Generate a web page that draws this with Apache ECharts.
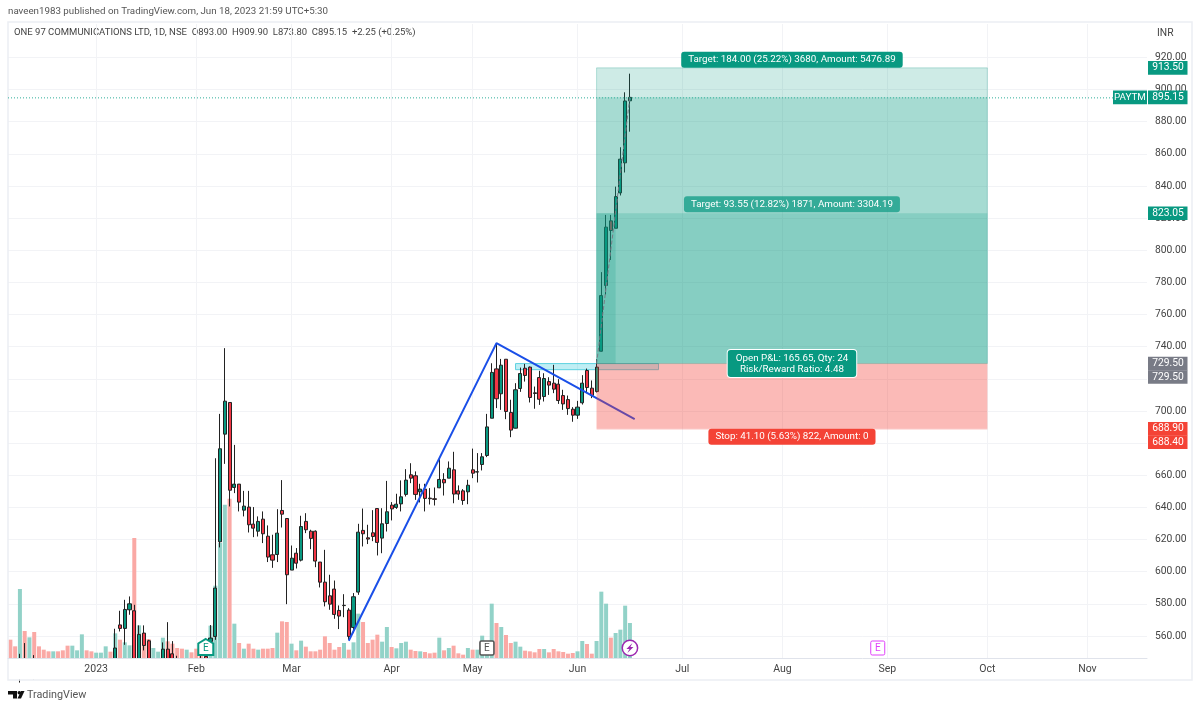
<!DOCTYPE html>
<html>
<head>
<meta charset="utf-8">
<script src="https://cdn.jsdelivr.net/npm/echarts@6/dist/echarts.min.js"></script>
<style>
html, body { margin: 0; padding: 0; background: #fff; }
#chart { width: 1200px; height: 709px; }
</style>
</head>
<body>
<div id="chart"></div>
<script>
var FONT = 'Roboto, sans-serif';
var UP = '#089981', DOWN = '#f23645';

// daily bars, first visible trading day of the screen to Jun 16 2023
var opens = [541,537,534,544,535,541,538,536,534,532,535,533,531,528,531,533,538,535,533,535,537,541,
  544,566.9,564.7,576.3,575.7,542,561.8,557,538,540,543,551.8,548.9,544,541,537,540,539,546,547.3,556.6,
  559.7,618.6,685.6,705.3,652.4,654.5,638.3,640.2,629.6,625.2,632.7,622.1,610.5,610.7,638.1,633.1,601,611.5,
  607.2,631.3,625.2,625.2,606,593.5,585,589.2,575.9,578.9,576.1,565.3,587.3,625.7,621.1,624.2,639.3,620.9,630,
  641.4,640,642.2,648.1,660.3,659.7,649.7,651.4,645.8,645.4,652.2,657.4,658.2,663.4,650.3,650.3,649.7,663.4,662,
  666.7,672.3,695.5,726.2,710.7,732.2,699.1,689.3,714,726.6,727.3,711.3,720.8,709,718.3,717.3,716.7,709.6,707.1,
  701.1,697.4,705.1,725.2,714.2,712.1,737.2,778.1,818.3,813.7,835.7,854.4,893];
var closes = [536,533,541,538,541,537,535,533,532,534,532,530,528,531,533,538,535,533,535,537,540,538,
  552.5,564.7,576.5,580,545,561,554.1,544,541,542,551.8,544,541,540,538,540,537,536,543,544,558.7,
  589.8,676.5,706.1,650.7,654.5,643.3,640.8,629.2,627.1,631.3,623.6,609.1,607.2,624,635.8,598.1,608.4,605.3,
  628.1,626.1,620.7,606.6,593.5,581.3,579.8,573.4,572.4,579.1,559.7,584.4,624.6,623.6,620.3,621.9,618.2,629.8,637.3,
  639.1,642,646.6,657,658.2,648.1,651.4,645.6,645.4,645,657.4,655.3,664.4,648.3,648.3,644.3,653.8,661.3,662.2,
  671.5,690.1,724,707.6,728.5,699.7,688.1,713.2,723.3,722.1,708.4,710.9,707.3,720.2,716.1,713.6,706.5,704.4,701.5,
  697.4,702.4,717.3,714.6,709.6,727.3,771.8,814.4,812.3,833.4,856.7,892.9,895.15];
var lows = [533,530,531,535,533,533,532,531,530,530,530,528,526,526,529,531,533,531,531,533,535,536,
  540,562.8,554.5,573.2,535,538,551,540,536,537,540,541,538,537,535,535,534,533,541,541,554.5,
  557.6,615.1,667.1,640.6,648.9,637.5,634.4,624.4,621.5,621.9,617.8,606,602.4,606,627.5,579.8,601,602,
  606.4,624,614,602.8,590.2,578.4,576.3,570.7,564.3,571.7,557.6,561.8,585.6,615.7,617.2,619,610.1,611.5,625,
  631.9,639.1,637.5,646.8,655.1,644.7,643.1,637.5,641.8,641.2,652,647.4,658.2,642.6,644.7,641.6,642,658.2,655.5,
  663,671.3,695.5,701.8,700.7,694.9,683.7,689.1,711.9,718.3,705.3,701.4,703.8,705.9,710,711.1,704.4,700.7,697.6,
  693.3,695.1,704,711.1,708,711.5,737,772.3,794,813.7,834.1,848.4,873.8];
var highs = [543,540,548.9,555.6,544,548.1,541,539,537,536,537,535,534,533,535,541,540,538,537,539,543,544,
  564.5,575.7,582.5,584.6,579.4,566.6,566.6,557.6,544,544.5,556,568.6,556.8,547.7,545,543,543,542,549,550.4,566.8,
  670.6,698.2,739.1,705.3,678.9,654.5,650.3,650.3,640.2,634.4,637.5,628.8,623,638.9,657,633.1,616.3,614.7,
  634.8,636.4,626.1,625.7,606,613.6,598.1,594.5,579,586,577.3,586.7,629.8,639.3,629.2,638.3,639.5,639.5,656.5,
  643.3,648.5,656.8,663.8,667.5,662.4,654.7,654.7,652,652.4,670,661.3,668.6,674.6,653.7,651.4,657.2,676.6,673.8,
  673.8,698.2,729.7,741.8,732.4,732.2,707,717.3,727,729.3,727.7,715.2,725,723.5,721,728.7,719.8,713.2,709.6,
  702.4,706.3,722.3,726.4,719,732.2,786.4,822,822,839.6,864.1,898.3,909.9];
var volumes = [55,35,207,81,62,78,35,25,20,20,20,23,37,37,23,71,23,20,16,16,35,19,
  74,55,47,38,360,98,75,57,30,19,61,50,43,30,28,25,17,28,25,35,97,
  217,345,460,478,103,45,28,43,28,25,28,28,30,76,110,108,43,23,
  52,34,20,20,25,65,45,25,33,45,25,47,133,108,45,55,70,49,93,
  33,29,45,49,25,21,20,18,14,16,61,23,30,37,14,10,30,25,25,
  67,40,163,105,93,69,45,49,34,22,20,17,27,27,17,27,20,18,13,
  15,20,51,42,13,51,199,163,61,75,85,157,105];

var barCount = 239;
var monthIndex = [18, 39, 59, 80, 97, 119, 141, 162, 184, 205, 226];
var monthLabels = ['2023', 'Feb', 'Mar', 'Apr', 'May', 'Jun', 'Jul', 'Aug', 'Sep', 'Oct', 'Nov'];
var priceTicks = [560,580,600,620,640,660,680,700,720,740,760,780,800,820,840,860,880,900,920];

// drawings on the chart
var trendX = [71, 102, 131];
var trendY = [557, 742.2, 694.9];
var pathX = [123, 130];
var pathY = [729.5, 895.15];
var boxX = [106, 136];
var boxY = [729.5, 725.7];

// long position tool, layered zones
var zoneKind = ['target', 'target', 'target', 'target', 'stop', 'stop'];
var zoneStart = [123, 123, 123, 123, 123, 123];
var zoneEnd = [205, 205, 205, 127, 205, 205];
var zoneTop = [913.5, 895.15, 823.05, 823.05, 729.5, 729.5];
var zoneBottom = [729.5, 729.5, 729.5, 729.5, 688.9, 688.4];

var calloutText = ['Target: 184.00 (25.22%) 3680, Amount: 5476.89',
  'Target: 93.55 (12.82%) 1871, Amount: 3304.19',
  'Open P&L: 165.65, Qty: 24\nRisk/Reward Ratio: 4.48',
  'Stop: 41.10 (5.63%) 822, Amount: 0'];
var calloutValue = [913.5, 823.05, 729.5, 688.4];
var calloutCenter = 164; // bar in the middle of the position box

var tagValue = [913.5, 895.15, 823.05, 729.5, 729.5, 688.9, 688.4];
var tagKind = ['up', 'up', 'up', 'grey', 'grey', 'down', 'down'];

var eventIndex = [41, 100, 130, 182];
var eventKind = ['green', 'grey', 'bolt', 'pink'];

var categories = [];
for (var i = 0; i < barCount; i++) {
  var m = monthIndex.indexOf(i);
  categories.push(m >= 0 ? monthLabels[m] : '');
}
var candles = opens.map(function (o, i) {
  return [o, closes[i], lows[i], highs[i]];
});
function pairs(xs, ys) {
  return xs.map(function (x, i) { return [x, ys[i]]; });
}

function renderZone(params, api) {
  var i = params.dataIndex;
  var a = api.coord([zoneStart[i], zoneTop[i]]);
  var b = api.coord([zoneEnd[i], zoneBottom[i]]);
  var target = zoneKind[i] == 'target';
  return {
    type: 'rect',
    shape: { x: a[0], y: a[1], width: b[0] - a[0], height: b[1] - a[1] },
    style: {
      fill: target ? 'rgba(8,153,129,0.2)' : 'rgba(244,67,54,0.2)',
      stroke: i == 0 ? 'rgba(8,153,129,0.25)' : null,
      lineWidth: 1
    }
  };
}

function renderBox(params, api) {
  var a = api.coord([boxX[0], boxY[0]]);
  var b = api.coord([boxX[1], boxY[1]]);
  return {
    type: 'rect',
    shape: { x: a[0], y: a[1], width: b[0] - a[0], height: b[1] - a[1] },
    style: { fill: 'rgba(0,188,212,0.25)', stroke: '#5ed2e0', lineWidth: 1 }
  };
}

function renderCallout(params, api) {
  var i = params.dataIndex;
  var p = api.coord([calloutCenter, calloutValue[i]]);
  var fills = ['#089981', 'rgba(8,153,129,0.72)', '#089981', '#f44336'];
  var shift = [-8, -9, 0, 7];
  return {
    type: 'text',
    style: {
      text: calloutText[i], x: p[0], y: p[1] + shift[i],
      align: 'center', verticalAlign: 'middle',
      fill: '#fff', font: '9.8px ' + FONT, lineHeight: 11,
      backgroundColor: fills[i], padding: i == 2 ? [2, 8, 3, 8] : [2, 7, 3, 7],
      borderRadius: 3,
      borderColor: i == 2 ? '#fff' : 'transparent', borderWidth: i == 2 ? 1 : 0
    }
  };
}

function renderTag(params, api) {
  var i = params.dataIndex;
  // stacked tags push each other down like the price scale does
  var y = api.coord([0, tagValue[0]])[1];
  for (var k = 1; k <= i; k++) {
    var next = api.coord([0, tagValue[k]])[1];
    y = Math.max(next, y + 13.4);
  }
  var fills = { up: '#089981', grey: '#787b86', down: '#f44336' };
  var children = [{
    type: 'rect',
    shape: { x: 1148, y: y - 6.8, width: 39.5, height: 13.6 },
    style: { fill: fills[tagKind[i]] }
  }, {
    type: 'text',
    style: { text: tagValue[i].toFixed(2), x: 1168, y: y, align: 'center', verticalAlign: 'middle', fill: '#fff', font: '10.3px ' + FONT }
  }];
  if (tagValue[i] == closes[closes.length - 1]) {
    children.push({
      type: 'line',
      shape: { x1: params.coordSys.x, y1: y + 0.5, x2: 1113, y2: y + 0.5 },
      style: { stroke: '#2fae9a', lineWidth: 1, lineDash: [1, 2] }
    }, {
      type: 'rect',
      shape: { x: 1113, y: y - 6.8, width: 34, height: 13.6 },
      style: { fill: '#089981' }
    }, {
      type: 'text',
      style: { text: 'PAYTM', x: 1130, y: y, align: 'center', verticalAlign: 'middle', fill: '#fff', font: '9.8px ' + FONT }
    });
  }
  return { type: 'group', children: children };
}

function renderEvent(params, api) {
  var i = params.dataIndex;
  var p = api.coord([eventIndex[i], 546.3]);
  var cx = p[0], cy = p[1] - 10;
  var kind = eventKind[i];
  if (kind == 'bolt') {
    return {
      type: 'group',
      children: [{
        type: 'circle', shape: { cx: cx, cy: cy, r: 7.7 },
        style: { fill: '#fff', stroke: '#9c27b0', lineWidth: 1.5 }
      }, {
        type: 'polygon',
        shape: { points: [[cx + 2.5, cy - 5], [cx - 3.5, cy + 1], [cx - 0.5, cy + 1], [cx - 2.5, cy + 5], [cx + 3.5, cy - 1], [cx + 0.5, cy - 1]] },
        style: { fill: '#9c27b0' }
      }]
    };
  }
  var color = { green: '#089981', grey: '#555', pink: '#e040fb' }[kind];
  var border;
  if (kind == 'green') {
    border = {
      type: 'polygon',
      shape: { points: [[cx, cy - 9], [cx + 7.5, cy - 4.5], [cx + 7.5, cy + 7], [cx - 7.5, cy + 7], [cx - 7.5, cy - 4.5]] },
      style: { fill: '#fff', stroke: color, lineWidth: 2 }
    };
  } else {
    border = {
      type: 'rect',
      shape: { x: cx - 7, y: cy - 7, width: 14, height: 14, r: 1.5 },
      style: { fill: '#fff', stroke: color, lineWidth: kind == 'grey' ? 1.6 : 1 }
    };
  }
  return {
    type: 'group',
    children: [border, {
      type: 'text',
      style: { text: 'E', x: cx, y: cy, align: 'center', verticalAlign: 'middle', fill: color, font: '10px ' + FONT }
    }]
  };
}

function pageText(x, y, text, size, color) {
  return { type: 'text', x: x, y: y, style: { text: text, fill: color, font: size + 'px ' + FONT, verticalAlign: 'middle' } };
}

function monthOnly(idx, value) {
  return value !== '';
}

var option = {
  backgroundColor: '#fff',
  animation: false,
  grid: { left: 8, right: 53, top: 24, bottom: 51 },
  xAxis: [{
    // vertical grid lines only, stays under the marks
    type: 'category',
    boundaryGap: true,
    data: categories,
    axisLine: { show: false },
    axisTick: { show: false },
    axisLabel: { show: false },
    splitLine: {
      show: true,
      alignWithLabel: true,
      interval: monthOnly,
      lineStyle: { color: '#f2f3f6', width: 1 }
    }
  }, {
    // labels and base line, above the mask under the plot
    type: 'category',
    position: 'bottom',
    boundaryGap: true,
    z: 10,
    data: categories,
    axisLine: { onZero: false, lineStyle: { color: '#e0e3eb', width: 1 } },
    axisTick: { show: false },
    axisLabel: {
      interval: monthOnly,
      color: '#444', fontFamily: FONT, fontSize: 10.5, margin: 6, hideOverlap: false
    },
    splitLine: { show: false }
  }],
  yAxis: [{
    type: 'value',
    position: 'right',
    min: 546.3,
    max: 940.8,
    axisLine: { show: false },
    axisTick: { show: false, customValues: priceTicks },
    axisLabel: {
      customValues: priceTicks,
      formatter: function (v) { return v.toFixed(2); },
      color: '#444', fontFamily: FONT, fontSize: 10.3, margin: 8
    },
    splitLine: { show: true, lineStyle: { color: '#f2f3f6', width: 1 } }
  }, {
    type: 'value', show: false, min: 0, max: 1902
  }],
  series: [{
    name: 'Volume',
    type: 'bar',
    yAxisIndex: 1,
    barWidth: 4,
    z: 1,
    itemStyle: {
      color: function (p) { return closes[p.dataIndex] >= opens[p.dataIndex] ? '#92d2c8' : '#faa9a5'; }
    },
    data: volumes
  }, {
    name: 'Cyan box',
    type: 'custom',
    z: 1.5,
    renderItem: renderBox,
    data: [boxX[0]]
  }, {
    name: 'PAYTM',
    type: 'candlestick',
    z: 2,
    barWidth: 3.6,
    itemStyle: {
      color: UP, color0: DOWN, borderColor: '#222', borderColor0: '#222', borderWidth: 1
    },
    data: candles
  }, {
    name: 'Trend',
    type: 'line',
    z: 3,
    showSymbol: false,
    symbol: 'none',
    lineStyle: { color: '#1a4fe8', width: 2 },
    data: pairs(trendX, trendY)
  }, {
    name: 'Position zones',
    type: 'custom',
    z: 4,
    renderItem: renderZone,
    data: zoneStart
  }, {
    name: 'Position path',
    type: 'line',
    z: 5,
    showSymbol: false,
    symbol: 'none',
    lineStyle: { color: '#787b86', width: 1, type: 'dashed' },
    data: pairs(pathX, pathY)
  }, {
    name: 'Callouts',
    type: 'custom',
    z: 6,
    renderItem: renderCallout,
    data: calloutValue
  }, {
    name: 'Events',
    type: 'custom',
    z: 6,
    renderItem: renderEvent,
    data: eventIndex
  }, {
    name: 'Price tags',
    type: 'custom',
    z: 7,
    renderItem: renderTag,
    data: tagValue
  }],
  graphic: [
    // candlesticks are not clipped by the grid, hide what runs below the plot
    { type: 'rect', z: 5, shape: { x: 9, y: 658.5, width: 1137, height: 21 }, style: { fill: '#fff' }, silent: true },
    { type: 'rect', z: 6, shape: { x: 8, y: 22, width: 1184, height: 658 }, style: { fill: 'none', stroke: '#eceef3', lineWidth: 1.5 }, silent: true },
    pageText(8, 12, 'naveen1983 published on TradingView.com, Jun 18, 2023 21:59 UTC+5:30', 9.75, '#555'),
    pageText(14, 33, 'ONE 97 COMMUNICATIONS LTD, 1D, NSE  O893.00  H909.90  L873.80  C895.15  +2.25 (+0.25%)', 9.5, '#444'),
    pageText(1157, 33, 'INR', 10.3, '#444'),
    pageText(27, 695, 'TradingView', 10.8, '#555'),
    { type: 'polygon', shape: { points: [[8, 691], [17, 691], [17, 698.5], [13, 698.5], [13, 694.5], [8, 694.5]] }, style: { fill: '#111' } },
    { type: 'circle', shape: { cx: 19.3, cy: 692.8, r: 1.8 }, style: { fill: '#111' } },
    { type: 'polygon', shape: { points: [[24.5, 691], [21, 698.5], [17.5, 698.5], [21, 691]] }, style: { fill: '#111' } }
  ]
};

var myChart = echarts.init(document.getElementById('chart'));
myChart.setOption(option);
</script>
</body>
</html>
